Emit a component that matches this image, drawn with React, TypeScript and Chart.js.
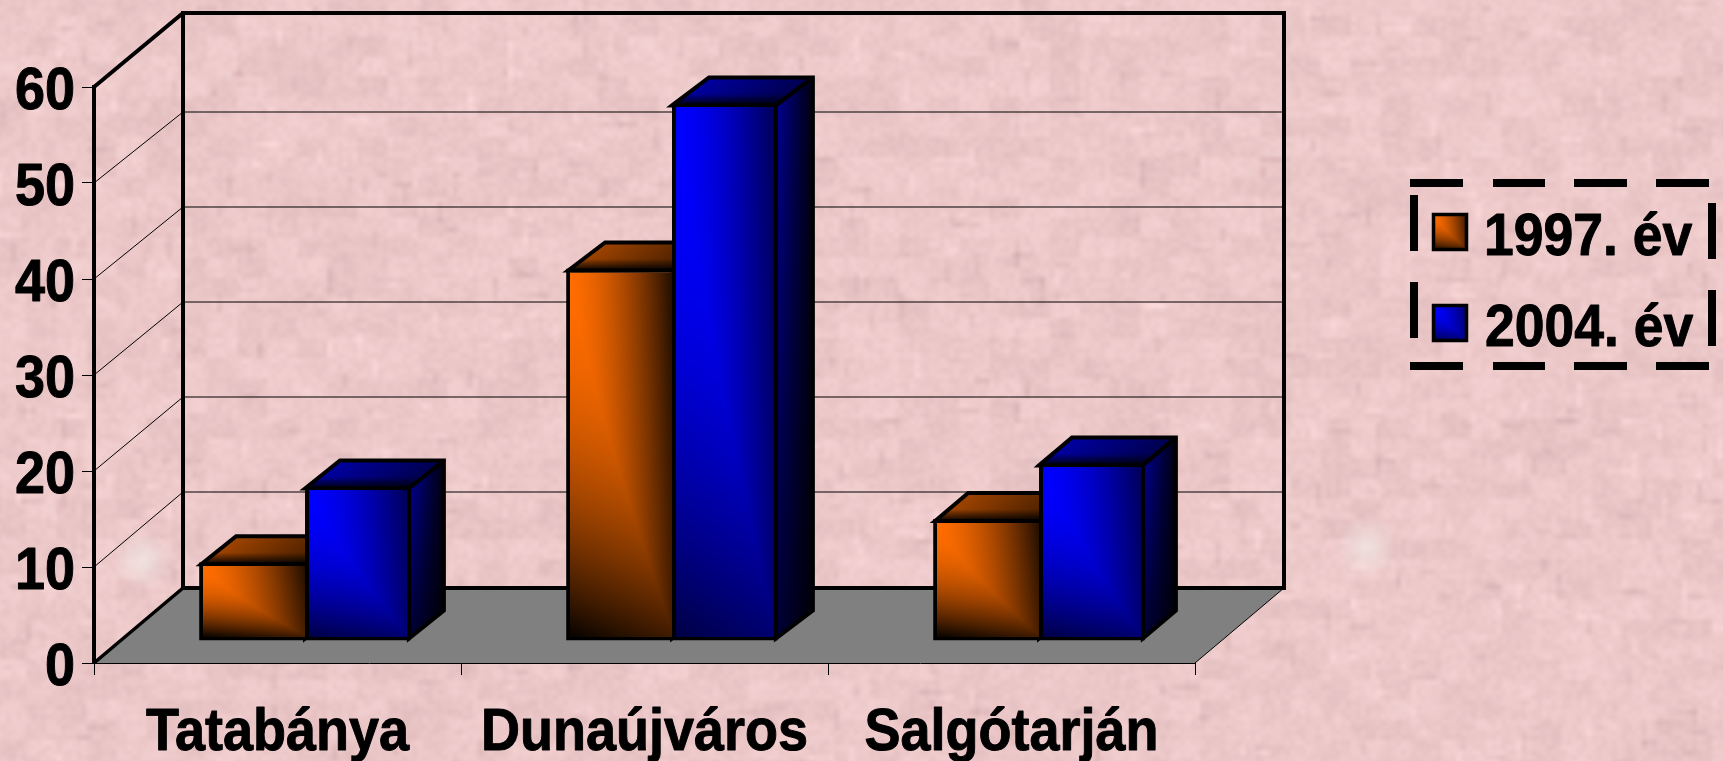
import React, { useEffect, useRef } from "react";
import { Chart, registerables } from "chart.js";

Chart.register(...registerables);

const categories = ["Tatabánya", "Dunaújváros", "Salgótarján"];
const series1997 = [8.2, 38.8, 12.7];
const series2004 = [16.1, 56, 18.5];
const seriesNames = ["1997. év", "2004. év"];
const yTicks = { min: 0, max: 60, step: 10 };

const W = 1723;
const H = 761;
const FONT = '"Liberation Sans", Arial, sans-serif';
const WALL_DX = 89;
const WALL_DY = 75;
const BAR_SHIFT_X = 27.5;
const BAR_SHIFT_Y = 22;
const DEPTH_X = [35, 37, 33];
const DEPTH_Y = 28;
const TEXT_STRETCH_Y = 1.11;
const TEXT_STRETCH_X = 1.0;
const BORDER = 4;
const ORANGE: number[] = [255, 108, 0];
const BLUE: number[] = [0, 0, 255];

type Shade = (u: number, v: number) => number;
const clamp = (n: number) => Math.max(0, Math.min(1, n));

const frontShade: Shade = (u, v) =>
  clamp(
    Math.min(
      1 - 0.9 * Math.pow(Math.max(0, u - 0.12 * v), 1.5),
      1 - Math.pow(Math.max(0, v - 0.12 * u), 2)
    )
  );
const sideShade: Shade = (u, v) => clamp(0.55 * (1 - 0.95 * u) * (1 - 0.65 * v));
const topShade: Shade = (u, v) =>
  clamp(0.62 * (1 - 0.55 * u) * Math.min(1, (1 - v) * 2.3));

function paintFace(w: number, h: number, base: number[], floor: number, shade: Shade) {
  const cw = Math.max(1, Math.round(w));
  const ch = Math.max(1, Math.round(h));
  const c = document.createElement("canvas");
  c.width = cw;
  c.height = ch;
  const g = c.getContext("2d")!;
  const img = g.createImageData(cw, ch);
  for (let y = 0; y < ch; y++) {
    for (let x = 0; x < cw; x++) {
      const b = floor + (1 - floor) * shade(x / cw, y / ch);
      const i = (y * cw + x) * 4;
      img.data[i] = base[0] * b;
      img.data[i + 1] = base[1] * b;
      img.data[i + 2] = base[2] * b;
      img.data[i + 3] = 255;
    }
  }
  g.putImageData(img, 0, 0);
  return c;
}

function rng(seed: number) {
  return () => {
    seed |= 0;
    seed = (seed + 0x6d2b79f5) | 0;
    let t = Math.imul(seed ^ (seed >>> 15), 1 | seed);
    t = (t + Math.imul(t ^ (t >>> 7), 61 | t)) ^ t;
    return ((t ^ (t >>> 14)) >>> 0) / 4294967296;
  };
}

function makeTexture() {
  const cell = 5;
  const cw = Math.ceil(W / cell);
  const ch = Math.ceil(H / cell);
  const r = rng(4711);
  const gw = Math.ceil(cw / 6) + 2;
  const gh = Math.ceil(ch / 4) + 2;
  const grid = new Float32Array(gw * gh).map(() => r() - 0.5);
  const field = new Float32Array(cw * ch);
  for (let y = 0; y < ch; y++) {
    for (let x = 0; x < cw; x++) {
      const cellV = grid[Math.floor(y / 4) * gw + Math.floor(x / 6)];
      field[y * cw + x] = cellV * 9 + (r() - 0.5) * 9;
    }
  }
  for (let n = 0; n < 1100; n++) {
    const vertical = r() < 0.5;
    const len = 2 + Math.floor(r() * 4);
    const x0 = Math.floor(r() * cw);
    const y0 = Math.floor(r() * ch);
    const amp = r() < 0.6 ? -3 - r() * 9 : 3 + r() * 6;
    for (let k = 0; k < len; k++) {
      const x = vertical ? x0 : x0 + k;
      const y = vertical ? y0 + k : y0;
      if (x < cw && y < ch) field[y * cw + x] += amp;
    }
  }
  const c = document.createElement("canvas");
  c.width = cw;
  c.height = ch;
  const g = c.getContext("2d")!;
  const img = g.createImageData(cw, ch);
  for (let i = 0; i < cw * ch; i++) {
    const d = field[i];
    img.data[i * 4] = 236 + d;
    img.data[i * 4 + 1] = 200 + d * 1.15;
    img.data[i * 4 + 2] = 201 + d * 1.1;
    img.data[i * 4 + 3] = 255;
  }
  g.putImageData(img, 0, 0);
  return c;
}

function stretchedText(ctx: CanvasRenderingContext2D, text: string, x: number, y: number, size: number, align: CanvasTextAlign) {
  ctx.save();
  ctx.translate(x, y);
  ctx.scale(TEXT_STRETCH_X, TEXT_STRETCH_Y);
  ctx.font = `bold ${size}px ${FONT}`;
  ctx.fillStyle = "#000";
  ctx.strokeStyle = "#000";
  ctx.lineWidth = 0.9;
  ctx.lineJoin = "round";
  ctx.textAlign = align;
  ctx.textBaseline = "alphabetic";
  ctx.fillText(text, 0, 0);
  ctx.strokeText(text, 0, 0);
  ctx.restore();
}

function poly(ctx: CanvasRenderingContext2D, pts: number[][]) {
  ctx.beginPath();
  pts.forEach((p, i) => (i ? ctx.lineTo(p[0], p[1]) : ctx.moveTo(p[0], p[1])));
  ctx.closePath();
}

function line(ctx: CanvasRenderingContext2D, x1: number, y1: number, x2: number, y2: number, w: number) {
  ctx.beginPath();
  ctx.moveTo(x1, y1);
  ctx.lineTo(x2, y2);
  ctx.lineWidth = w;
  ctx.strokeStyle = "#000";
  ctx.stroke();
}

const styles = [
  { base: ORANGE, floor: 0.03 },
  { base: BLUE, floor: 0.27 },
];

const scene = {
  id: "scene3d",
  beforeDraw(chart: any) {
    const { ctx, chartArea: a, scales } = chart;
    ctx.save();
    ctx.imageSmoothingEnabled = true;
    ctx.filter = "blur(1px)";
    ctx.drawImage(makeTexture(), -4, -4, W + 8, H + 8);
    ctx.filter = "none";
    [[143, 560], [1367, 547]].forEach(([x, y]) => {
      const g = ctx.createRadialGradient(x, y, 2, x, y, 30);
      g.addColorStop(0, "rgba(240,232,228,0.75)");
      g.addColorStop(1, "rgba(240,232,228,0)");
      ctx.fillStyle = g;
      ctx.fillRect(x - 32, y - 32, 64, 64);
    });

    const bx = a.left + WALL_DX;
    const brx = a.right + WALL_DX;
    const y0 = scales.y.getPixelForValue(yTicks.min);
    const yMax = scales.y.getPixelForValue(yTicks.max);

    poly(ctx, [[a.left, y0], [bx, y0 - WALL_DY], [brx, y0 - WALL_DY], [a.right, y0]]);
    ctx.fillStyle = "#808080";
    ctx.fill();

    for (let v = yTicks.min + yTicks.step; v < yTicks.max; v += yTicks.step) {
      const y = scales.y.getPixelForValue(v);
      const backY = y - (76 - v * 0.1);
      ctx.beginPath();
      ctx.moveTo(a.left, y);
      ctx.lineTo(bx, backY);
      ctx.lineTo(brx, backY);
      ctx.lineWidth = 1;
      ctx.strokeStyle = "#000";
      ctx.stroke();
    }

    ctx.lineJoin = "miter";
    line(ctx, a.left, yMax, bx, yMax - 74, 4);
    line(ctx, bx - 2, yMax - 74, brx + 2, yMax - 74, 4);
    line(ctx, bx, yMax - 74, bx, y0 - WALL_DY + 2, 4);
    line(ctx, brx, yMax - 74, brx, y0 - WALL_DY + 2, 4);
    line(ctx, bx, y0 - WALL_DY, brx + 2, y0 - WALL_DY, 4);
    line(ctx, a.left, y0, bx, y0 - WALL_DY, 3.5);
    line(ctx, a.right, y0, brx, y0 - WALL_DY, 1);
    ctx.restore();
  },
  beforeDatasetsDraw(chart: any) {
    const { ctx } = chart;
    ctx.save();
    ctx.translate(BAR_SHIFT_X, -BAR_SHIFT_Y);
    const half = BORDER / 2;
    [1, 0].forEach((ds) => {
      const st = styles[ds];
      chart.getDatasetMeta(ds).data.forEach((el: any, i: number) => {
        const { x, y, base, width } = el.getProps(["x", "y", "base", "width"], true);
        const dx = DEPTH_X[i];
        const l = x - width / 2 + (ds === 0 ? half : 0);
        const r = x + width / 2 - (ds === 1 ? half : 0);
        const t = y + half;
        const b = base - half;

        const top = paintFace(r - l, DEPTH_Y, st.base, ds === 0 ? 0 : 0.03, topShade);
        ctx.save();
        poly(ctx, [[l, t], [l + dx, t - DEPTH_Y], [r + dx, t - DEPTH_Y], [r, t]]);
        ctx.clip();
        ctx.transform((r - l) / top.width, 0, -dx / top.height, DEPTH_Y / top.height, l + dx, t - DEPTH_Y);
        ctx.drawImage(top, 0, 0);
        ctx.restore();

        const side = paintFace(dx, b - t, st.base, 0.02, sideShade);
        ctx.save();
        poly(ctx, [[r, t], [r + dx, t - DEPTH_Y], [r + dx, b - DEPTH_Y], [r, b]]);
        ctx.clip();
        ctx.transform(dx / side.width, -DEPTH_Y / side.width, 0, (b - t) / side.height, r, t);
        ctx.drawImage(side, 0, 0);
        ctx.restore();

        ctx.lineWidth = BORDER;
        ctx.strokeStyle = "#000";
        ctx.lineJoin = "miter";
        poly(ctx, [[l, t], [l + dx, t - DEPTH_Y], [r + dx, t - DEPTH_Y], [r + dx, b - DEPTH_Y], [r, b], [r, t]]);
        ctx.stroke();
        line(ctx, r, t, r + dx, t - DEPTH_Y, BORDER);
      });
    });
  },
  afterDatasetsDraw(chart: any) {
    const { ctx, scales } = chart;
    [0, 1].forEach((ds) => {
      const st = styles[ds];
      chart.getDatasetMeta(ds).data.forEach((el: any) => {
        const { x, y, base, width } = el.getProps(["x", "y", "base", "width"], true);
        const l = x - width / 2 + BORDER;
        const r = x + width / 2 - (ds === 1 ? BORDER : 0);
        const t = y + BORDER;
        const b = base - BORDER;
        ctx.drawImage(paintFace(r - l, b - t, st.base, st.floor, frontShade), l, t, r - l, b - t);
      });
    });
    ctx.restore();

    scales.y.ticks.forEach((tick: any, i: number) => {
      stretchedText(ctx, String(tick.label), 75, scales.y.getPixelForTick(i) + 22, 54, "right");
    });
    scales.x.ticks.forEach((tick: any, i: number) => {
      stretchedText(ctx, String(tick.label), scales.x.getPixelForTick(i), 750, 54, "center");
    });

    ctx.save();
    ctx.strokeStyle = "#000";
    const rows = [
      { boxY: 213, baseline: 255, textX: 1484 },
      { boxY: 304, baseline: 346, textX: 1485 },
    ];
    rows.forEach((row, i) => {
      const st = styles[i];
      ctx.drawImage(paintFace(36, 37, st.base, st.floor, frontShade), 1432, row.boxY, 36, 37);
      ctx.lineWidth = 3.5;
      ctx.strokeRect(1433.5, row.boxY + 1.5, 33, 35);
      const name = chart.data.datasets[i].label;
      stretchedText(ctx, name, row.textX, row.baseline, 53.5, "left");
    });

    ctx.lineCap = "butt";
    const topDash = [[1410, 1463], [1493, 1545], [1574, 1627], [1656, 1709]];
    topDash.forEach(([a, b]) => {
      line(ctx, a, 183, b, 183, 8);
      line(ctx, a, 366, b, 366, 8);
    });
    [[195, 251], [282, 338]].forEach(([a, b]) => line(ctx, 1414, a, 1414, b, 8));
    [[203, 259], [290, 346]].forEach(([a, b]) => line(ctx, 1712, a, 1712, b, 8));
    ctx.restore();
  },
};

export default function App() {
  const ref = useRef<HTMLCanvasElement>(null);
  useEffect(() => {
    const chart = new Chart(ref.current!, {
      type: "bar",
      data: {
        labels: categories,
        datasets: [
          {
            label: seriesNames[0],
            data: series1997,
            backgroundColor: "#5a2600",
            borderColor: "#000",
            borderWidth: BORDER,
            borderSkipped: "right",
            categoryPercentage: 0.577,
            barPercentage: 1,
            clip: false,
          },
          {
            label: seriesNames[1],
            data: series2004,
            backgroundColor: "#000080",
            borderColor: "#000",
            borderWidth: BORDER,
            borderSkipped: false,
            categoryPercentage: 0.577,
            barPercentage: 1,
            clip: false,
          },
        ] as any,
      },
      options: {
        animation: false,
        responsive: false,
        events: [],
        layout: { padding: { top: 87, right: 528, left: 0, bottom: 0 } },
        plugins: { legend: { display: false }, title: { display: false }, tooltip: { enabled: false } },
        scales: {
          x: {
            ticks: { display: false },
            grid: { drawOnChartArea: false, drawTicks: true, tickLength: 12, color: "#000", lineWidth: 1 },
            border: { color: "#000", width: 1 },
            afterFit: (s: any) => {
              s.height = 98;
            },
          },
          y: {
            min: yTicks.min,
            max: yTicks.max,
            ticks: { display: false, stepSize: yTicks.step },
            grid: { drawOnChartArea: false, drawTicks: true, tickLength: 12, color: "#000", lineWidth: 1 },
            border: { color: "#000", width: 4 },
            afterFit: (s: any) => {
              s.width = 94;
            },
          },
        },
      },
      plugins: [scene],
    } as any);
    return () => chart.destroy();
  }, []);
  return (
    <div style={{ position: "fixed", left: 0, top: 0, width: W, height: H }}>
      <canvas ref={ref} width={W} height={H} style={{ display: "block" }} />
    </div>
  );
}
